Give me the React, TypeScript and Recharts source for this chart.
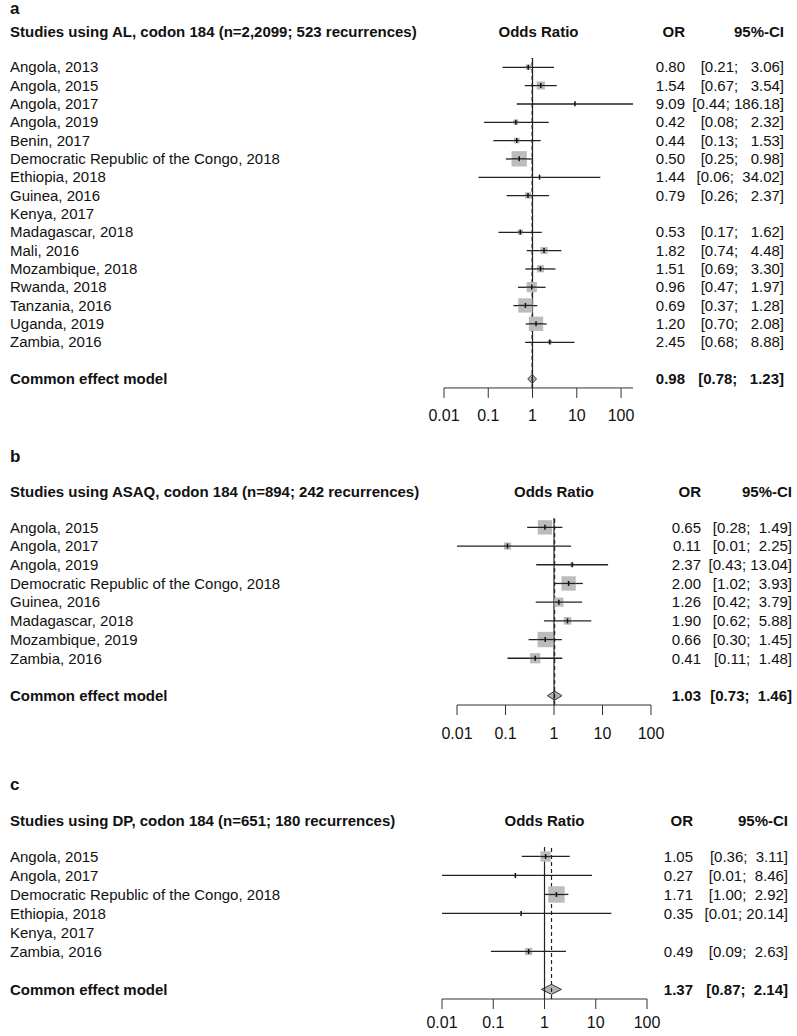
import React from 'react';
import { ComposedChart, Bar, Scatter, XAxis, YAxis, ReferenceLine } from 'recharts';

const FONT = "'Liberation Sans', Arial, Helvetica, sans-serif";

// x axis (odds ratio, log scale)
const orTicks = [0.01, 0.1, 1, 10, 100];
const orTickLabels = ['0.01', '0.1', '1', '10', '100'];

// a: artemether-lumefantrine
const alTitle = 'Studies using AL, codon 184 (n=2,2099; 523 recurrences)';
const alStudies = [
  'Angola, 2013', 'Angola, 2015', 'Angola, 2017', 'Angola, 2019', 'Benin, 2017',
  'Democratic Republic of the Congo, 2018', 'Ethiopia, 2018', 'Guinea, 2016', 'Kenya, 2017',
  'Madagascar, 2018', 'Mali, 2016', 'Mozambique, 2018', 'Rwanda, 2018', 'Tanzania, 2016',
  'Uganda, 2019', 'Zambia, 2016',
];
const alOR = [0.8, 1.54, 9.09, 0.42, 0.44, 0.5, 1.44, 0.79, null, 0.53, 1.82, 1.51, 0.96, 0.69, 1.2, 2.45];
const alLower = [0.21, 0.67, 0.44, 0.08, 0.13, 0.25, 0.06, 0.26, null, 0.17, 0.74, 0.69, 0.47, 0.37, 0.7, 0.68];
const alUpper = [3.06, 3.54, 186.18, 2.32, 1.53, 0.98, 34.02, 2.37, null, 1.62, 4.48, 3.3, 1.97, 1.28, 2.08, 8.88];
const alWeight = [2.6, 6.5, 0.2, 2.6, 3.1, 23.0, 0.2, 3.7, null, 2.6, 5.0, 5.0, 10.2, 20.0, 20.0, 1.6];
const alCommon = [0.98, 0.78, 1.23];

// b: artesunate-amodiaquine
const asaqTitle = 'Studies using ASAQ, codon 184 (n=894; 242 recurrences)';
const asaqStudies = [
  'Angola, 2015', 'Angola, 2017', 'Angola, 2019', 'Democratic Republic of the Congo, 2018',
  'Guinea, 2016', 'Madagascar, 2018', 'Mozambique, 2019', 'Zambia, 2016',
];
const asaqOR = [0.65, 0.11, 2.37, 2.0, 1.26, 1.9, 0.66, 0.41];
const asaqLower = [0.28, 0.01, 0.43, 1.02, 0.42, 0.62, 0.3, 0.11];
const asaqUpper = [1.49, 2.25, 13.04, 3.93, 3.79, 5.88, 1.45, 1.48];
const asaqWeight = [21.3, 5.3, 1.7, 21.3, 8.8, 6.1, 24.5, 10.9];
const asaqCommon = [1.03, 0.73, 1.46];

// c: dihydroartemisinin-piperaquine
const dpTitle = 'Studies using DP, codon 184 (n=651; 180 recurrences)';
const dpStudies = [
  'Angola, 2015', 'Angola, 2017', 'Democratic Republic of the Congo, 2018',
  'Ethiopia, 2018', 'Kenya, 2017', 'Zambia, 2016',
];
const dpOR = [1.05, 0.27, 1.71, 0.35, null, 0.49];
const dpLower = [0.36, 0.01, 1.0, 0.01, null, 0.09];
const dpUpper = [3.11, 8.46, 2.92, 20.14, null, 2.63];
const dpWeight = [24.4, 1.0, 62.4, 0.2, null, 12.0];
const dpCommon = [1.37, 0.87, 2.14];

type Row = {
  key: string;
  label: string;
  kind: 'study' | 'blank' | 'common';
  est: number | null;
  lo: number | null;
  hi: number | null;
  w: number | null;
  ci: [number, number] | null;
};

function buildRows(
  studies: string[],
  or: (number | null)[],
  lower: (number | null)[],
  upper: (number | null)[],
  weight: (number | null)[],
  common: number[],
): Row[] {
  const rows: Row[] = studies.map((s, i) => ({
    key: s,
    label: s,
    kind: 'study',
    est: or[i],
    lo: lower[i],
    hi: upper[i],
    w: weight[i],
    ci: lower[i] != null && upper[i] != null ? [lower[i] as number, upper[i] as number] : null,
  }));
  rows.push({ key: 'blank', label: '', kind: 'blank', est: null, lo: null, hi: null, w: null, ci: null });
  rows.push({
    key: 'common',
    label: 'Common effect model',
    kind: 'common',
    est: common[0],
    lo: common[1],
    hi: common[2],
    w: null,
    ci: [common[1], common[2]],
  });
  return rows;
}

type Panel = {
  letter: string;
  title: string;
  rows: Row[];
  pooled: number;
  letterY: number;
  headerY: number;
  plotTop: number;
  rowH: number;
  axisLeft: number;
  axisRight: number;
  orRight: number;
  ciRight: number;
  squareK: number;
  diamondH: number;
  tickMargin: number;
};

const panels: Panel[] = [
  {
    letter: 'a', title: alTitle,
    rows: buildRows(alStudies, alOR, alLower, alUpper, alWeight, alCommon), pooled: alCommon[0],
    letterY: 14, headerY: 36.5, plotTop: 57.5, rowH: 18.33,
    axisLeft: 444, axisRight: 633, orRight: 685, ciRight: 784,
    squareK: 3.2, diamondH: 4.5, tickMargin: 12,
  },
  {
    letter: 'b', title: asaqTitle,
    rows: buildRows(asaqStudies, asaqOR, asaqLower, asaqUpper, asaqWeight, asaqCommon), pooled: asaqCommon[0],
    letterY: 461.5, headerY: 496.5, plotTop: 517.6, rowH: 18.7,
    axisLeft: 457, axisRight: 651, orRight: 701, ciRight: 792,
    squareK: 3.1, diamondH: 4.5, tickMargin: 13,
  },
  {
    letter: 'c', title: dpTitle,
    rows: buildRows(dpStudies, dpOR, dpLower, dpUpper, dpWeight, dpCommon), pooled: dpCommon[0],
    letterY: 790, headerY: 825.5, plotTop: 847.2, rowH: 19,
    axisLeft: 442, axisRight: 647, orRight: 693, ciRight: 788,
    squareK: 2.08, diamondH: 5, tickMargin: 8,
  },
];

// "[lo; hi]" padded with spaces the way the meta package prints it
const ciText = (row: Row, rows: Row[]) => {
  const his = rows.filter((r) => r.hi != null).map((r) => (r.hi as number).toFixed(2).length);
  const los = rows.filter((r) => r.lo != null).map((r) => (r.lo as number).toFixed(2).length);
  const lo = (row.lo as number).toFixed(2);
  const hi = (row.hi as number).toFixed(2);
  const padLo = ' '.repeat(Math.max(...los) - lo.length);
  const padHi = ' '.repeat(Math.max(...his) - hi.length);
  return `[${padLo}${lo}; ${padHi}${hi}]`;
};

const textProps = { fontFamily: FONT, fontSize: 15, fill: '#111' };

const renderRowTick = (props: any, p: Panel) => {
  const { y, payload } = props;
  const row = p.rows.find((r) => r.key === payload.value);
  if (!row || row.kind === 'blank') return <g />;
  const weight = row.kind === 'common' ? 700 : 400;
  return (
    <g>
      <text x={10} y={y} dy="0.35em" textAnchor="start" fontWeight={weight} {...textProps}>
        {row.label}
      </text>
      {row.est != null && row.lo != null && row.hi != null && (
        <>
          <text x={p.orRight} y={y} dy="0.35em" textAnchor="end" fontWeight={weight} {...textProps}>
            {row.est.toFixed(2)}
          </text>
          <text
            x={p.ciRight}
            y={y}
            dy="0.35em"
            textAnchor="end"
            fontWeight={weight}
            xmlSpace="preserve"
            style={{ whiteSpace: 'pre' }}
            {...textProps}
          >
            {ciText(row, p.rows)}
          </text>
        </>
      )}
    </g>
  );
};

// confidence interval line, or the diamond for the pooled estimate
const renderInterval = (props: any, p: Panel) => {
  const { x, y, width, height, payload } = props;
  if (!payload || payload.lo == null || !Number.isFinite(x) || !Number.isFinite(width)) return <g />;
  const cy = y + height / 2;
  if (payload.kind === 'common') {
    const frac = (Math.log(payload.est) - Math.log(payload.lo)) / (Math.log(payload.hi) - Math.log(payload.lo));
    const cx = x + width * frac;
    const h = p.diamondH;
    return (
      <polygon
        points={`${x},${cy} ${cx},${cy - h} ${x + width},${cy} ${cx},${cy + h}`}
        fill="#b4b4b4"
        stroke="#333"
        strokeWidth={1}
      />
    );
  }
  return <line x1={x} x2={x + width} y1={cy} y2={cy} stroke="#222" strokeWidth={1.3} />;
};

// weighted square with a small mark at the estimate
const renderEstimate = (props: any, p: Panel) => {
  const { cx, cy, payload } = props;
  if (!payload || payload.kind !== 'study' || payload.est == null || !Number.isFinite(cx)) return <g />;
  const s = p.squareK * Math.sqrt(payload.w);
  return (
    <g>
      <rect x={cx - s / 2} y={cy - s / 2} width={s} height={s} fill="#bcbcbc" />
      <line x1={cx - s / 2} x2={cx + s / 2} y1={cy} y2={cy} stroke="#222" strokeWidth={1.3} />
      <line x1={cx} x2={cx} y1={cy - 2.5} y2={cy + 2.5} stroke="#111" strokeWidth={1.5} />
    </g>
  );
};

const ForestPanel = ({ p }: { p: Panel }) => {
  const xAxisH = 40;
  const height = p.rows.length * p.rowH + xAxisH;
  return (
    <div style={{ position: 'absolute', left: 0, top: p.plotTop }}>
      <ComposedChart
        width={797}
        height={height}
        data={p.rows}
        layout="vertical"
        margin={{ top: 0, right: 797 - p.axisRight, bottom: 0, left: 0 }}
      >
        <XAxis
          type="number"
          scale="log"
          domain={() => [0.01, 100]}
          ticks={orTicks}
          interval={0}
          tickFormatter={(v: number) => orTickLabels[orTicks.indexOf(v)]}
          height={xAxisH}
          tickSize={10}
          tickMargin={p.tickMargin}
          stroke="#333"
          tick={{ fill: '#111', fontSize: 16, fontFamily: FONT }}
        />
        <YAxis
          type="category"
          dataKey="key"
          width={p.axisLeft}
          axisLine={false}
          tickLine={false}
          interval={0}
          tick={(props: any) => renderRowTick(props, p)}
        />
        <ReferenceLine x={1} stroke="#222" strokeWidth={1.2} />
        <ReferenceLine x={p.pooled} stroke="#222" strokeWidth={1.2} strokeDasharray="4 3" />
        <Bar dataKey="ci" isAnimationActive={false} shape={(props: any) => renderInterval(props, p)} />
        <Scatter dataKey="est" isAnimationActive={false} shape={(props: any) => renderEstimate(props, p)} />
      </ComposedChart>
    </div>
  );
};

export default function App() {
  return (
    <div
      style={{
        position: 'absolute',
        left: 0,
        top: 0,
        width: 797,
        height: 1036,
        overflow: 'hidden',
        background: '#fff',
        fontFamily: FONT,
      }}
    >
      {panels.map((p) => (
        <ForestPanel key={p.letter} p={p} />
      ))}
      <svg width={797} height={1036} style={{ position: 'absolute', left: 0, top: 0, pointerEvents: 'none' }}>
        {panels.map((p) => (
          <g key={p.letter}>
            <text x={10} y={p.letterY} fontFamily={FONT} fontSize={17} fontWeight={700} fill="#111">
              {p.letter}
            </text>
            <text x={10} y={p.headerY} fontFamily={FONT} fontSize={15} fontWeight={700} fill="#111">
              {p.title}
            </text>
            <text
              x={(p.axisLeft + p.axisRight) / 2}
              y={p.headerY}
              textAnchor="middle"
              fontFamily={FONT}
              fontSize={15}
              fontWeight={700}
              fill="#111"
            >
              Odds Ratio
            </text>
            <text x={p.orRight} y={p.headerY} textAnchor="end" fontFamily={FONT} fontSize={15} fontWeight={700} fill="#111">
              OR
            </text>
            <text x={p.ciRight} y={p.headerY} textAnchor="end" fontFamily={FONT} fontSize={15} fontWeight={700} fill="#111">
              95%-CI
            </text>
          </g>
        ))}
      </svg>
    </div>
  );
}
